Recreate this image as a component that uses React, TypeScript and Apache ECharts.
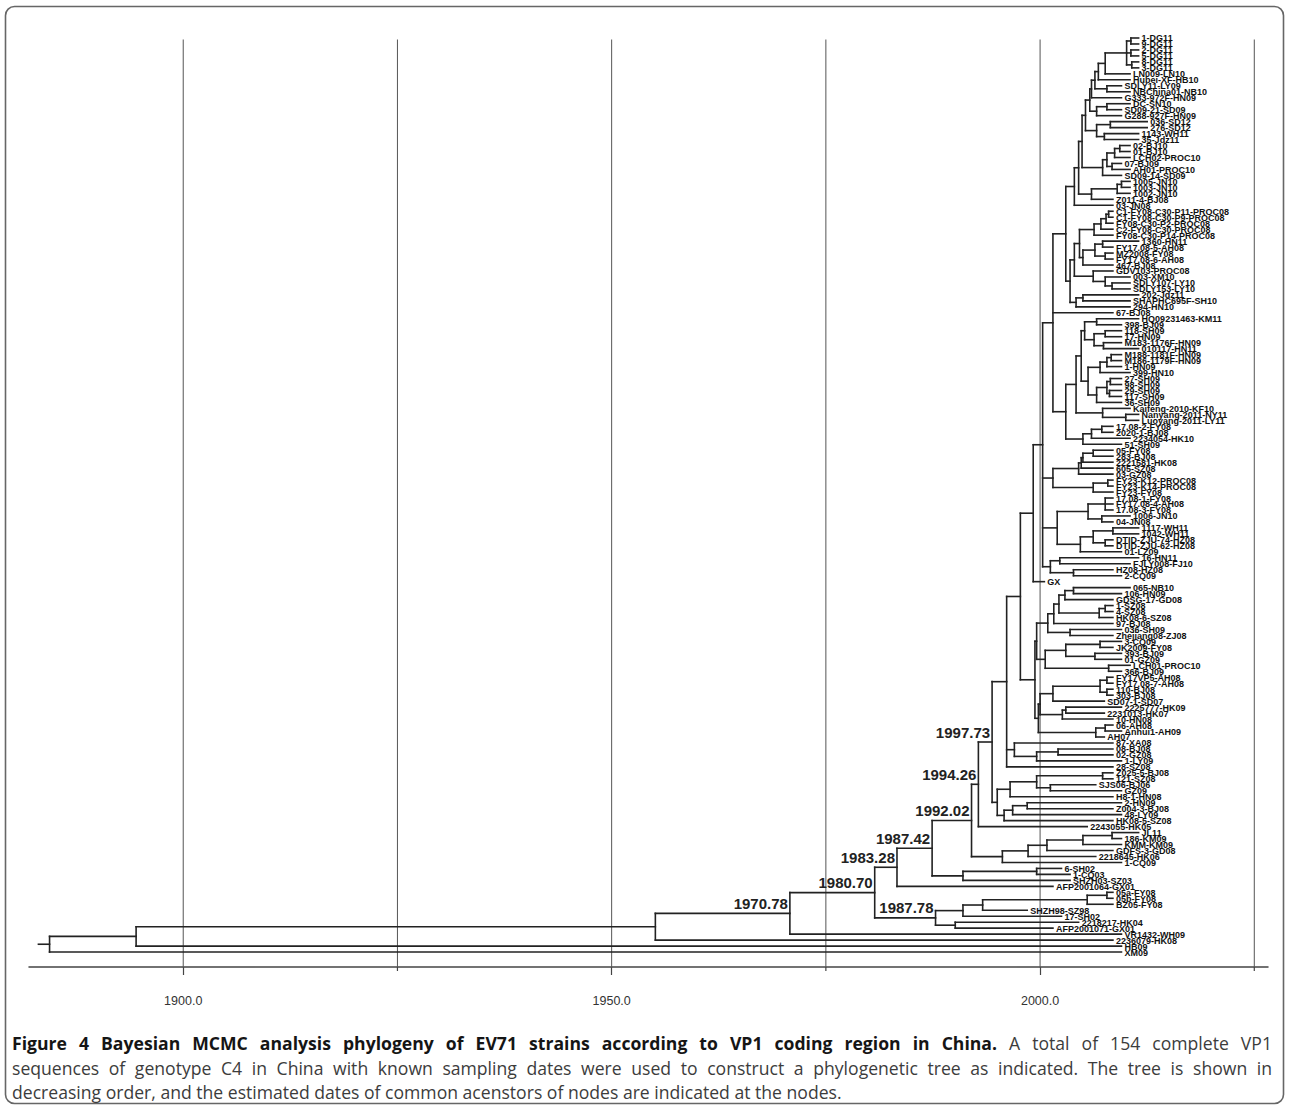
import React, { useEffect, useRef } from "react";
import * as echarts from "echarts";

// ---------------- DATA ----------------
// time axis (decimal years)
const X_MIN = 1882.0;
const X_MAX = 2026.6;
const MAJOR_TICKS = [1900, 1950, 2000];
const MINOR_TICKS = [1925, 1975, 2025];
const GRID_YEARS = [1900, 1925, 1950, 1975, 2000, 2025];
const ROOT_STUB_START = 1883.1;
// tips are drawn at mid-year of the sampling year given by the label suffix
const TIP_OFFSET = 0.5;

// clades in Newick form: ":date" = node date (decimal year), "[text]" = printed node label
const cDG = "((1-DG11,9-DG11):2010.6,(2-DG11,5-DG11):2010.6,(8-DG11,3-DG11):2010.7):2010.1";
const cN5 = `((((${cDG},LN009-LN10):2007.6,Hubei-XF-HB10):2006.8,(SDLY11-LY09,NBChina01-NB10):2007.8):2006.4,G333-972F-HN09):2006.0`;
const cN6 = "((DC-SN10,SD09-21-SD09):2007.8,G288-927F-HN09):2006.6";
const cT2 = "((036-SD12,276-SD12):2008.2,(1143-WH11,35-Jdz11):2007.5):2006.6";
const cT3 = "((((02-BJ10,01-BJ10):2009.3,LCH02-PROC10):2008.7,(07-BJ09,AH01-PROC10):2008.4):2007.8,SD09-14-SD09):2007.3";
const cT4 = "(((1005-JN10,1003-JN10):2009.5,1002-JN10):2009.0,Z011-4-BJ08):2006.0";
const cT7 = `(((((${cN5},${cN6}):2005.8,${cT2}):2005.3,${cT3}):2004.9,${cT4}):2004.5,03-JN08):2004.0`;
const cC = "((((C1-FY08-C30-P11-PROC08,C1-FY08-C30-P9-PROC08):2008.0,FY08-C30-P2-PROC08):2007.7,C2-FY08-C30-PROC08):2007.1,FY08-C30-P14-PROC08):2006.3";
const cD = "(((1360-HN11,FY17.08-5-AH08):2007.3,(MZ2008-FY08,FY17.08-6-AH08):2007.6):2006.4,467-BJ08):2005.0";
const cE = "(GDV103-PROC08,(003-XM10,(SDLY107-LY10,SDLY153-LY10):2008.4):2007.6):2006.2";
const cF = "((202-Jdz11,SHAPHC695F-SH10):2005.0,294-HN10):2004.2";
const cCDEF = `(((${cC},${cD}):2004.6,${cE}):2004.0,${cF}):2003.5`;
const cU1 = `(${cT7},${cCDEF}):2003.0`;
const cH1 = "((HQ09231463-KM11,398-BJ09):2006.6,((118-SH09,17-HN09):2007.6,(M183-1176F-HN09,010117-HN11):2007.4):2006.3):2005.2";
const cH2 = "(((M188-1181F-HN09,M186-1179F-HN09):2008.3,1-HN09):2007.8,399-HN10):2007.0";
const cH3 = "(((27-SH09,98-SH09):2008.2,(29-SH09,117-SH09):2008.1):2007.8,36-SH09):2006.6";
const cH4 = "(Kaifeng-2010-KF10,(Nanyang-2011-NY11,Luoyang-2011-LY11):2010.0):2007.3";
const cI1 = "(((17.08-2-FY08,2020-1-BJ08):2007.2,2234054-HK10):2006.0,51-SH09):2005.0";
const cHGI = `(((${cH1},(${cH2},${cH3}):2005.6):2004.8,${cH4}):2004.2,${cI1}):2003.0`;
const cS = `(${cU1},67-BJ08,${cHGI}):2001.5`;
const cJG = "(((((05-FY08,283-BJ08):2006.2,2221581-HK08):2005.0,605-SZ08):2004.8,03-GZ08):2004.5,((FY23-K12-PROC08,FY23-K14-PROC08):2007.9,FY23-FY08):2006.2):2001.5";
const cK12 = "(((17.08-1-FY08,FY17.08-4-AH08,17.08-3-FY08):2007.6,(1006-JN10,04-JN08):2007.2):2005.6,(((1117-WH11,1042-WH11):2008.5,(DTID-ZJU-74-HZ08,DTID-ZJU-62-HZ08):2007.6):2006.2,01-LZ09):2004.7):2002.0";
const cK3 = "((16-HN11,FJLY008-FJ10):2002.3,(HZ08-HZ08,2-CQ09):2003.9):2001.2";
const cQ = `((${cS},${cJG},${cK12},${cK3}):2000.3,GX:2000.5):1999.2`;
const cV1 = "(((065-NB10,106-HN09):2003.9,GDSG-17-GD08):2002.9,((1-SZ08,4-SZ08):2007.6,HK08-6-SZ08):2006.9):2002.2";
const cV2 = `((${cV1},97-BJ08):2001.6,(036-SH09,Zhejiang08-ZJ08):2003.5):2000.9`;
const cV3 = "(((3-CQ09,JK2009-FY08):2007.0,(393-BJ09,01-GZ09):2006.4):2003.0,(LCH01-PROC10,366-BJ09):2008.0):2000.6";
const cV4 = "((((FY17VP5-AH08,FY17.08-7-AH08):2007.8,(110-BJ08,303-BJ08):2007.8):2007.0,SD07-1-SD07):2001.5,((2225777-HK09,2231013-HK07):2003.0,10-HN08):2002.6):2000.0";
const cV5 = "((06-AH08,Anhui1-AH09):2007.6,AH07):2006.5";
const cV = `((${cV2},${cV3}):1999.6,(${cV4},${cV5}):1999.8):1999.4`;
const cP = `(${cQ},${cV}):1997.7`;
const cB2 = "(87-XA08,((08-BJ08,02-GZ08):2002.1,1-LY09):1999.6):1997.0";
const cM = `(${cP},${cB2},28-SZ08):1996.1`;
const cN = "((((Z025-5-BJ08,121-SZ08):2007.3,(SJS06-BJ06,GZ09):2001.2):1999.6,H8-1-HN08):1996.5,(((2-HN09,Z004-3-BJ08):1998.5,48-LY09):1996.8,HK08-5-SZ08):1995.8):1995.0";
const cJ = `((${cM},${cN}):1994.4[1997.73],2243055-HK05):1992.8[1994.26]`;
const cIK = "(((((JL11,186-KM09):2008.4,KMM-KM09):2005.0,GDFS-3-GD08):2000.8,2218645-HK06):1998.6,1-CQ09):1995.6";
const cH = `((${cJ},${cIK}):1992.0[1992.02],((6-SH02,1-CQ03):1999.6,SHZH03-SZ03):1991.0):1987.4[1987.42]`;
const cG = "(((((05a-FY08,05b-FY08):2007.8,BZ05-FY08):2005.5,SHZH98-SZ98):1993.3,17-SH02):1991.0,(2218217-HK04,AFP2001071-GX01):1990.1):1987.8[1987.78]";
const TREE = `((((((${cH},AFP2001064-GX01):1983.3[1983.28],${cG}):1980.7[1980.70],VR1432-WH09):1970.8[1970.78],2236079-HK08):1955.1,HB09):1894.5,XM09):1884.4`;

// caption
const CAPTION_BOLD = "Figure 4 Bayesian MCMC analysis phylogeny of EV71 strains according to VP1 coding region in China.";
const CAPTION_L1_REST = "A total of 154 complete VP1";
const CAPTION_L2 = "sequences of genotype C4 in China with known sampling dates were used to construct a phylogenetic tree as indicated. The tree is shown in";
const CAPTION_L3 = "decreasing order, and the estimated dates of common acenstors of nodes are indicated at the nodes.";

// ---------------- LAYOUT CONSTANTS ----------------
const W = 1290;
const H = 1106;
const Y_MIN = 0.335;
const Y_MAX = 155.5;
const CAP_FONT_SIZE = 17.6;
const CAP_FAMILY = '"Open Sans"';
const CAP_LEFT = 12;
const CAP_RIGHT = 1272;
const CAP_Y = [1043, 1068, 1092];

interface TNode {
  name: string;
  t: number;
  label: string;
  children: TNode[];
  y: number;
}

function parseNewick(src: string): TNode {
  let i = 0;
  const readNode = (): TNode => {
    const n: TNode = { name: "", t: NaN, label: "", children: [], y: 0 };
    if (src[i] === "(") {
      i++;
      n.children.push(readNode());
      while (src[i] === ",") {
        i++;
        n.children.push(readNode());
      }
      i++;
    } else {
      const st = i;
      while (i < src.length && ",():[".indexOf(src[i]) < 0) i++;
      n.name = src.slice(st, i).trim();
    }
    if (src[i] === ":") {
      i++;
      const st = i;
      while (i < src.length && "0123456789.".indexOf(src[i]) >= 0) i++;
      n.t = parseFloat(src.slice(st, i));
    }
    if (src[i] === "[") {
      i++;
      const st = i;
      while (i < src.length && src[i] !== "]") i++;
      n.label = src.slice(st, i);
      i++;
    }
    return n;
  };
  return readNode();
}

function buildTree() {
  const root = parseNewick(TREE);
  const leaves: TNode[] = [];
  const inner: TNode[] = [];
  const walk = (n: TNode) => {
    if (!n.children.length) {
      if (isNaN(n.t)) {
        const m = n.name.match(/(\d\d)$/);
        const yy = m ? parseInt(m[1], 10) : 0;
        n.t = (yy > 50 ? 1900 : 2000) + yy + TIP_OFFSET;
      }
      n.y = leaves.length;
      leaves.push(n);
    } else {
      n.children.forEach(walk);
      n.y = (n.children[0].y + n.children[n.children.length - 1].y) / 2;
      inner.push(n);
    }
  };
  walk(root);
  const segs: number[][] = [[ROOT_STUB_START, root.y, root.t, root.y]];
  inner.forEach((n) => {
    const a = n.children[0];
    const b = n.children[n.children.length - 1];
    segs.push([n.t, a.y, n.t, b.y]);
    n.children.forEach((c) => segs.push([n.t, c.y, c.t, c.y]));
  });
  return { root, leaves, inner, segs };
}

function captionGraphics(): any[] {
  const canvas = document.createElement("canvas");
  const ctx = canvas.getContext("2d") as CanvasRenderingContext2D;
  const fReg = `${CAP_FONT_SIZE}px ${CAP_FAMILY}`;
  const fBold = `bold ${CAP_FONT_SIZE}px ${CAP_FAMILY}`;
  const measure = (txt: string, font: string) => {
    ctx.font = font;
    return ctx.measureText(txt).width;
  };
  const out: any[] = [];
  const justified = (words: { w: string; bold: boolean }[], y: number) => {
    const widths = words.map((o) => measure(o.w, o.bold ? fBold : fReg));
    const total = widths.reduce((s, v) => s + v, 0);
    const gap = Math.max(3, (CAP_RIGHT - CAP_LEFT - total) / (words.length - 1));
    let x = CAP_LEFT;
    words.forEach((o, k) => {
      out.push({
        type: "text",
        x,
        y,
        silent: true,
        style: {
          text: o.w,
          font: o.bold ? fBold : fReg,
          fill: o.bold ? "#151515" : "#3c3c3c",
          verticalAlign: "middle",
          align: "left",
        },
      });
      x += widths[k] + gap;
    });
  };
  justified(
    [
      ...CAPTION_BOLD.split(" ").map((w) => ({ w, bold: true })),
      ...CAPTION_L1_REST.split(" ").map((w) => ({ w, bold: false })),
    ],
    CAP_Y[0]
  );
  justified(CAPTION_L2.split(" ").map((w) => ({ w, bold: false })), CAP_Y[1]);
  out.push({
    type: "text",
    x: CAP_LEFT,
    y: CAP_Y[2],
    silent: true,
    style: { text: CAPTION_L3, font: fReg, fill: "#3c3c3c", verticalAlign: "middle", align: "left" },
  });
  return out;
}

function buildOption(): any {
  const { leaves, inner, segs } = buildTree();
  const labelled = inner.filter((n) => n.label);
  const gridSegs = GRID_YEARS.map((g) => [g, Y_MIN, g, Y_MAX]);

  const lineRender = (stroke: string, width: number) => (params: any, api: any) => {
    const p1 = api.coord([api.value(0), api.value(1)]);
    const p2 = api.coord([api.value(2), api.value(3)]);
    return {
      type: "line",
      shape: { x1: p1[0], y1: p1[1], x2: p2[0], y2: p2[1] },
      style: { stroke, lineWidth: width, lineCap: "square" },
    };
  };

  return {
    animation: false,
    backgroundColor: "#ffffff",
    grid: { left: 29, right: W - 1268, top: 40, bottom: H - 967 },
    xAxis: {
      type: "value",
      min: X_MIN,
      max: X_MAX,
      axisLine: { show: true, onZero: false, lineStyle: { color: "#444", width: 1.5 } },
      axisTick: { show: true, customValues: MAJOR_TICKS, length: 8, lineStyle: { color: "#444", width: 1.2 } },
      axisLabel: {
        show: true,
        customValues: MAJOR_TICKS,
        formatter: (v: number) => v.toFixed(1),
        fontSize: 12.5,
        color: "#333",
        margin: 27,
        fontFamily: '"Liberation Sans", Arial, sans-serif',
      },
      splitLine: { show: false },
    },
    yAxis: { type: "value", inverse: true, min: Y_MIN, max: Y_MAX, show: false },
    graphic: [
      {
        type: "rect",
        z: -10,
        silent: true,
        shape: { x: 5.5, y: 6.5, width: 1278, height: 1097, r: 9 },
        style: { fill: "none", stroke: "#666", lineWidth: 1.6 },
      },
      ...captionGraphics(),
    ],
    series: [
      {
        type: "custom",
        name: "grid",
        silent: true,
        clip: false,
        z: 1,
        encode: { x: [0, 2], y: [1, 3] },
        data: gridSegs,
        renderItem: lineRender("#555", 1),
      },
      {
        type: "custom",
        name: "minorTicks",
        silent: true,
        clip: false,
        z: 1,
        encode: { x: 0 },
        data: MINOR_TICKS.map((t) => [t, Y_MAX]),
        renderItem: (params: any, api: any) => {
          const p = api.coord([api.value(0), api.value(1)]);
          return {
            type: "line",
            shape: { x1: p[0], y1: p[1], x2: p[0], y2: p[1] + 4 },
            style: { stroke: "#444", lineWidth: 1.2 },
          };
        },
      },
      {
        type: "custom",
        name: "branches",
        silent: true,
        clip: false,
        z: 2,
        encode: { x: [0, 2], y: [1, 3] },
        data: segs,
        renderItem: lineRender("#222", 1.6),
      },
      {
        type: "custom",
        name: "tips",
        silent: true,
        clip: false,
        z: 3,
        encode: { x: 0, y: 1 },
        data: leaves.map((l) => [l.t, l.y]),
        renderItem: (params: any, api: any) => {
          const p = api.coord([api.value(0), api.value(1)]);
          const lf = leaves[params.dataIndex];
          return {
            type: "text",
            x: p[0] + 3,
            y: p[1] + 0.5,
            style: {
              text: lf.name,
              font: 'bold 9px "Liberation Sans", Arial, sans-serif',
              fill: "#111",
              align: "left",
              verticalAlign: "middle",
            },
          };
        },
      },
      {
        type: "custom",
        name: "nodeDates",
        silent: true,
        clip: false,
        z: 4,
        encode: { x: 0, y: 1 },
        data: labelled.map((n) => [n.t, n.y]),
        renderItem: (params: any, api: any) => {
          const p = api.coord([api.value(0), api.value(1)]);
          const n = labelled[params.dataIndex];
          return {
            type: "text",
            x: p[0] - 2,
            y: p[1] - 2.5,
            style: {
              text: n.label,
              font: 'bold 15px "Liberation Sans", Arial, sans-serif',
              fill: "#222",
              align: "right",
              verticalAlign: "bottom",
            },
          };
        },
      },
    ],
  };
}

export default function App() {
  const ref = useRef<HTMLDivElement>(null);
  useEffect(() => {
    document.body.style.margin = "0";
    const chart = echarts.init(ref.current as HTMLDivElement, undefined, { renderer: "svg" });
    chart.setOption(buildOption());
    return () => chart.dispose();
  }, []);
  return <div ref={ref} style={{ width: W, height: H }} />;
}
